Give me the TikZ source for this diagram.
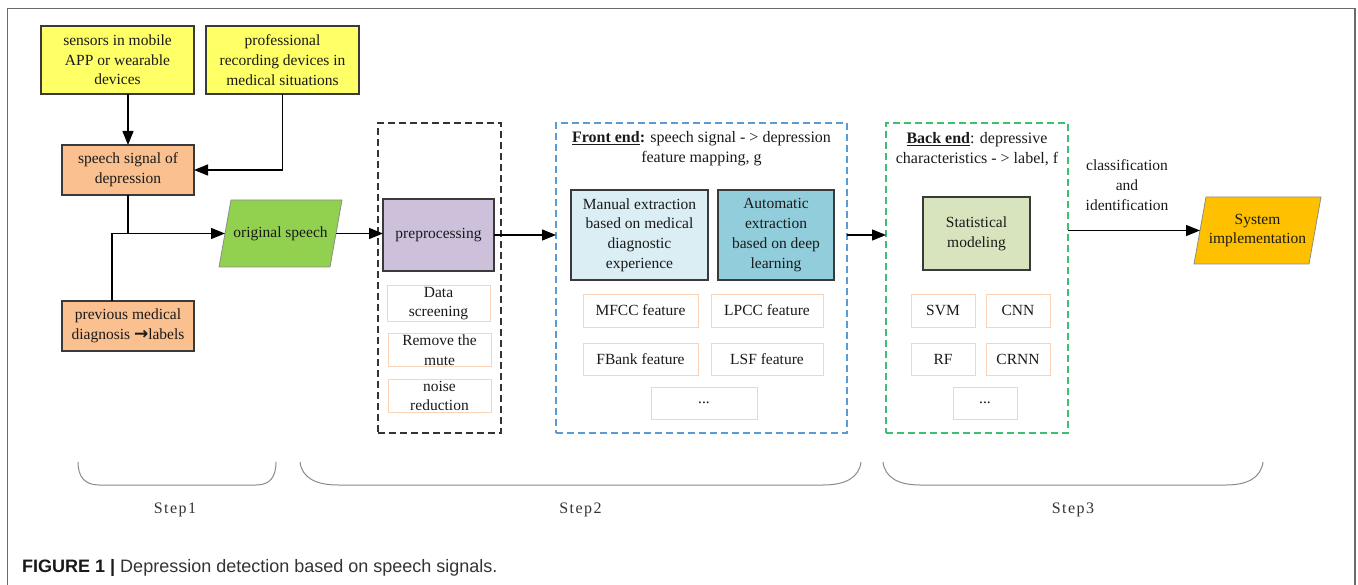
\documentclass[tikz,border=0pt]{standalone}
\usepackage{fontspec}
\setmainfont{Liberation Serif}
\newfontfamily\capfont{Liberation Sans}
\newfontfamily\stepfont[LetterSpace=9]{Liberation Serif}
\newfontfamily\arrowfont{DejaVu Sans}
\usetikzlibrary{arrows.meta,backgrounds}

\definecolor{txt}{HTML}{1A1A1A}
\definecolor{boxline}{HTML}{3A3A3A}
\definecolor{subline}{HTML}{FAD3B6}
\definecolor{yel}{HTML}{FFFF66}
\definecolor{peach}{HTML}{FAC090}
\definecolor{grn}{HTML}{92D050}
\definecolor{lilac}{HTML}{CCC0DA}
\definecolor{paleblue}{HTML}{DAEEF3}
\definecolor{midblue}{HTML}{92CDDC}
\definecolor{sage}{HTML}{D7E4BD}
\definecolor{amber}{HTML}{FFC000}
\definecolor{dashblue}{HTML}{5B9BD5}
\definecolor{dashgreen}{HTML}{3CC070}
\definecolor{dashblack}{HTML}{333333}
\definecolor{bracegray}{HTML}{8A8A8A}
\definecolor{framegray}{HTML}{6A6A6A}

\newcommand\mainsz{\fontsize{15.5}{19.7}\selectfont}
\newcommand\titlesz{\fontsize{16}{20}\selectfont}

\begin{document}
\begin{tikzpicture}[x=1pt,y=-1pt,
  every node/.style={text=txt, font=\mainsz},
  box/.style={draw=boxline, line width=1.4pt, inner sep=1pt, outer sep=0pt, align=center},
  subbox/.style={draw=subline, line width=0.9pt, inner sep=1pt, outer sep=0pt, align=center},
  slantbox/.style={inner sep=1pt, outer sep=0pt, align=center},
  groupbox/.style={dash pattern=on 7pt off 4pt, line width=1.3pt, inner sep=0pt, outer sep=0pt},
  arr/.style={draw=black, line width=1.3pt, -{Triangle[length=14pt,width=11pt]}},
  link/.style={draw=black, line width=1.3pt},
  bracket/.style={draw=bracegray, line width=1pt},
  steptxt/.style={text=black!80, font=\stepfont\fontsize{16}{18}\selectfont}
]
\useasboundingbox (0,0) rectangle (1358,585);

% outer frame
\draw[framegray, line width=1.5pt] (7.5,585) -- (7.5,8.5) -- (1355,8.5) -- (1355,585);

% --- Step 1: data sources ---
\node[box, fill=yel, minimum width=153, minimum height=68] (s1) at (117.5,60)
  {sensors in mobile\\APP or wearable\\devices};
\node[box, fill=yel, minimum width=153, minimum height=68] (s2) at (282.5,60)
  {professional\\recording devices in\\medical situations};
\node[box, fill=peach, minimum width=132, minimum height=50] (sig) at (128,170)
  {speech signal of\\depression};
\node[box, fill=peach, minimum width=132, minimum height=50] (prev) at (128,326)
  {previous medical\\diagnosis {\arrowfont\bfseries\fontsize{17}{16}\selectfont →}labels};
\node[slantbox, minimum width=111, minimum height=67] (orig) at (280.5,233.5)
  {original speech};
\coordinate (j) at (112,233.5);

% --- Step 2: preprocessing ---
\node[groupbox, draw=dashblack, minimum width=123, minimum height=310] (pbox) at (439.5,278) {};
\node[box, fill=lilac, minimum width=111, minimum height=72] (pre) at (438.5,235) {preprocessing};
\node[subbox, minimum width=103, minimum height=33] (ds) at (438.5,303.5) {Data\\screening};
\node[subbox, minimum width=103, minimum height=32] (rm) at (439.5,350) {Remove the\\mute};
\node[subbox, minimum width=103, minimum height=32] (nr) at (439.5,396) {noise\\reduction};

% --- Step 2: front end ---
\node[groupbox, draw=dashblue, minimum width=291, minimum height=310] (fe) at (701.5,278) {};
\node[align=center, font=\titlesz] (fetitle) at (701.5,149)
  {\underline{\textbf{Front end}}\textbf{:} speech signal - > depression\\feature mapping, g};
\node[box, fill=paleblue, minimum width=137, minimum height=90] (man) at (639.5,235)
  {Manual extraction\\based on medical\\diagnostic\\experience};
\node[box, fill=midblue, minimum width=116, minimum height=90] (auto) at (776,235)
  {Automatic\\extraction\\based on deep\\learning};
\node[subbox, minimum width=115, minimum height=33] (mfcc) at (640.5,310.5) {MFCC feature};
\node[subbox, minimum width=112, minimum height=33] (lpcc) at (767,310.5) {LPCC feature};
\node[subbox, minimum width=115, minimum height=32] (fbank) at (640.5,359) {FBank feature};
\node[subbox, minimum width=112, minimum height=32] (lsf) at (767,359) {LSF feature};
\node[subbox, minimum width=106, minimum height=32] (fedots) at (704,403) {...};

% --- Step 3: back end ---
\node[groupbox, draw=dashgreen, minimum width=182, minimum height=310] (be) at (977,278) {};
\node[align=center, font=\titlesz] (betitle) at (977,149)
  {\underline{\textbf{Back end}}: depressive\\characteristics - > label, f};
\node[box, fill=sage, minimum width=107, minimum height=73] (stat) at (976.5,233.5)
  {Statistical\\modeling};
\node[subbox, minimum width=64, minimum height=33] (svm) at (943,310.5) {SVM};
\node[subbox, minimum width=64, minimum height=33] (cnn) at (1018,310.5) {CNN};
\node[subbox, minimum width=64, minimum height=32] (rf) at (943,359) {RF};
\node[subbox, minimum width=64, minimum height=32] (crnn) at (1018,359) {CRNN};
\node[subbox, minimum width=64, minimum height=32] (bedots) at (985,403) {...};

\node[slantbox, minimum width=115, minimum height=67] (sys) at (1257.5,230.5)
  {System\\implementation};
\node[align=center] (cls) at (1127,185) {classification\\and\\identification};

% parallelogram outlines behind the slanted labels
\begin{scope}[on background layer]
  \draw[draw=black!45, line width=0.8pt, fill=grn]
    ([xshift=-6pt]orig.south west) -- ([xshift=6pt]orig.north west)
    -- ([xshift=6pt]orig.north east) -- ([xshift=-6pt]orig.south east) -- cycle;
  \draw[draw=black!45, line width=0.8pt, fill=amber]
    ([xshift=-6pt]sys.south west) -- ([xshift=6pt]sys.north west)
    -- ([xshift=6pt]sys.north east) -- ([xshift=-6pt]sys.south east) -- cycle;
\end{scope}

% connectors
\draw[arr] (s1.south -| sig.north) -- (sig.north);
\draw[arr] (s2.south) |- (sig.east);
\draw[arr] (sig.south) |- (orig.west);
\draw[link] (prev.north -| j) -- (j) -- (sig.south |- j);
\draw[arr] (orig.east) -- (orig.east -| pre.west);
\draw[arr] (pre.east) -- (pre.east -| fe.west);
\draw[arr] (pre.east -| fe.east) -- (pre.east -| be.west);
\draw[arr] (sys.west -| be.east) -- (sys.west);

% step brackets
\draw[bracket] (78,462) .. controls (78,477) and (85,485) .. (99,485) -- (256,485)
  .. controls (270,485) and (276,477) .. (276,462);
\draw[bracket] (300,462) .. controls (302,478) and (316,485) .. (338,485) -- (823,485)
  .. controls (845,485) and (859,478) .. (861,462);
\draw[bracket] (883,462) .. controls (885,478) and (899,485) .. (920,485) -- (1226,485)
  .. controls (1247,485) and (1261,478) .. (1263,462);
\node[steptxt] (st1) at (175,510) {Step1};
\node[steptxt] (st2) at (580.5,510) {Step2};
\node[steptxt] (st3) at (1073,510) {Step3};

% caption
\node[anchor=base west, inner sep=0pt, font=\capfont\fontsize{18}{22}\selectfont, text=black!80] (cap) at (22,572)
  {\textbf{\color{black!90}FIGURE 1 |} Depression detection based on speech signals.};
\end{tikzpicture}
\end{document}
